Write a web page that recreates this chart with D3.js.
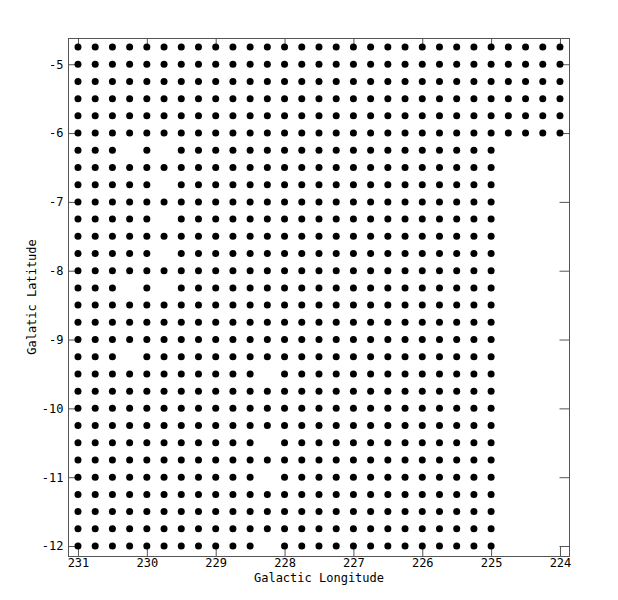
<!DOCTYPE html>
<html>
<head>
<meta charset="utf-8">
<script src="https://d3js.org/d3.v7.min.js"></script>
<style>
  body { margin: 0; background: #fff; }
  text { font-family: "DejaVu Sans Mono", monospace; font-size: 12px; fill: #000; }
</style>
</head>
<body>
<svg id="chart" width="618" height="600"></svg>
<script>
// grid of pointings, 0.25 deg spacing
var longitudes = [231, 230.75, 230.5, 230.25, 230, 229.75, 229.5, 229.25, 229, 228.75,
                  228.5, 228.25, 228, 227.75, 227.5, 227.25, 227, 226.75, 226.5, 226.25,
                  226, 225.75, 225.5, 225.25, 225, 224.75, 224.5, 224.25, 224];
var latitudes = [-4.75, -5, -5.25, -5.5, -5.75, -6, -6.25, -6.5, -6.75, -7,
                 -7.25, -7.5, -7.75, -8, -8.25, -8.5, -8.75, -9, -9.25, -9.5,
                 -9.75, -10, -10.25, -10.5, -10.75, -11, -11.25, -11.5, -11.75, -12];
// rows that reach all the way to l=224, the rest stop at l=225
var wideRows = [-4.75, -5, -5.25, -5.5, -5.75, -6];
var narrowEnd = 225;
// pointings that are absent
var gaps = [
  [230.25, -6.25], [229.75, -6.25],
  [229.75, -6.75],
  [229.75, -7.25],
  [229.75, -7.75],
  [230.25, -8.25], [229.75, -8.25],
  [230.25, -9.25],
  [228.25, -9.5],
  [228.25, -10.5],
  [228.25, -11],
  [228.25, -12]
];
var xTicks = [231, 230, 229, 228, 227, 226, 225, 224];
var yTicks = [-5, -6, -7, -8, -9, -10, -11, -12];

var svg = d3.select("#chart");
var mLeft = 68, mRight = 569, mTop = 38, mBottom = 556;

var x = d3.scaleLinear().domain([231.145, 223.869]).range([mLeft, mRight]);
var y = d3.scaleLinear().domain([-4.619, -12.145]).range([mTop, mBottom]);

var points = [];
latitudes.forEach(function(b) {
    longitudes.forEach(function(l) {
        if (wideRows.indexOf(b) < 0 && l < narrowEnd) return;
        var missing = gaps.some(function(g) { return g[0] === l && g[1] === b; });
        if (!missing) points.push({l: l, b: b});
    });
});

// axes, ticks point inward on all four sides
var tickLen = 10;
var fmt = function(d) { return String(d); };

svg.append("g")
    .attr("transform", "translate(0," + (mBottom + 0.5) + ")")
    .call(d3.axisBottom(x).tickValues(xTicks).tickSizeInner(-tickLen).tickSizeOuter(0).tickPadding(2).tickFormat(fmt));
svg.append("g")
    .attr("transform", "translate(0," + (mTop + 0.5) + ")")
    .call(d3.axisTop(x).tickValues(xTicks).tickSizeInner(-tickLen).tickSizeOuter(0).tickFormat(""));
svg.append("g")
    .attr("transform", "translate(" + (mLeft + 0.5) + ",0)")
    .call(d3.axisLeft(y).tickValues(yTicks).tickSizeInner(-tickLen).tickSizeOuter(0).tickPadding(5).tickFormat(fmt));
svg.append("g")
    .attr("transform", "translate(" + (mRight + 0.5) + ",0)")
    .call(d3.axisRight(y).tickValues(yTicks).tickSizeInner(-tickLen).tickSizeOuter(0).tickFormat(""));

svg.selectAll(".domain").remove();
svg.selectAll(".tick line").attr("stroke", "#555");
svg.selectAll(".tick text").style("font-family", "DejaVu Sans Mono, monospace").style("font-size", "12px").attr("fill", "#000");

// frame
svg.append("rect")
    .attr("x", mLeft + 0.5).attr("y", mTop + 0.5)
    .attr("width", mRight - mLeft).attr("height", mBottom - mTop)
    .attr("fill", "none").attr("stroke", "#555").attr("stroke-width", 1);

// dots
svg.append("g").selectAll("circle")
    .data(points)
    .join("circle")
    .attr("cx", function(d) { return x(d.l); })
    .attr("cy", function(d) { return y(d.b); })
    .attr("r", 3.5)
    .attr("fill", "#000");

// labels
svg.append("text")
    .attr("x", (mLeft + mRight) / 2 + 0.5).attr("y", 582)
    .attr("text-anchor", "middle")
    .text("Galactic Longitude");
svg.append("text")
    .attr("transform", "translate(36," + ((mTop + mBottom) / 2) + ") rotate(-90)")
    .attr("text-anchor", "middle")
    .text("Galatic Latitude");
</script>
</body>
</html>
